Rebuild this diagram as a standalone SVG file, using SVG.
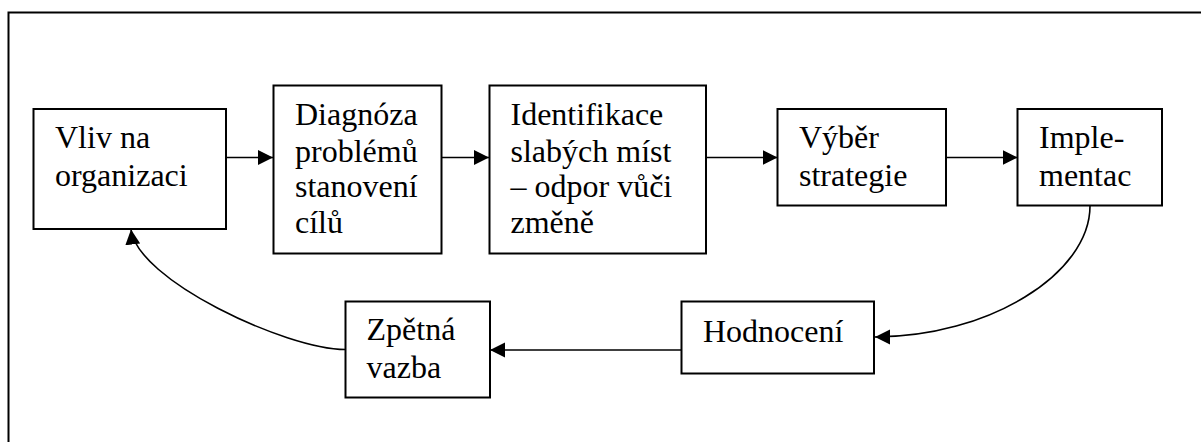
<svg xmlns="http://www.w3.org/2000/svg" width="1201" height="442" viewBox="0 0 1201 442">
<style>
.box{fill:#fff;stroke:#000;stroke-width:2}
.t{font-family:'Liberation Serif','Times New Roman',serif;font-size:32px;fill:#000}
.c{fill:none;stroke:#000;stroke-width:1.6}
</style>
<defs>
<marker id="ah" markerUnits="userSpaceOnUse" markerWidth="16" markerHeight="16" refX="15" refY="7.5" orient="auto" viewBox="0 0 16 15">
<path d="M0,0 L15,7.5 L0,15 Z" fill="#000"/>
</marker>
</defs>
<rect width="1201" height="442" fill="#fff"/>
<path d="M8.5,442 V12.5 H1201" fill="none" stroke="#000" stroke-width="2"/>
<g id="connectors">
<path class="c" d="M226,157.5 H273" marker-end="url(#ah)"/>
<path class="c" d="M442,157.5 H489" marker-end="url(#ah)"/>
<path class="c" d="M706,157.5 H777.5" marker-end="url(#ah)"/>
<path class="c" d="M946,157.5 H1017.5" marker-end="url(#ah)"/>
<path class="c" d="M1090,206 C1090,274 988,337 875,337" marker-end="url(#ah)"/>
<path class="c" d="M682,350 H490" marker-end="url(#ah)"/>
<path class="c" d="M345.5,349.5 C285,349 137,280 131,229.5" marker-end="url(#ah)"/>
</g>
<g id="n1">
<rect class="box" x="33.5" y="109" width="192.5" height="120"/>
<text class="t" x="55" y="148" style="font-family:'Liberation Serif',serif">Vliv na</text>
<text class="t" x="55" y="186" style="font-family:'Liberation Serif',serif">organizaci</text>
</g>
<g id="n2">
<rect class="box" x="273.5" y="85.5" width="168" height="168"/>
<text class="t" x="295" y="125" style="font-family:'Liberation Serif',serif">Diagnóza</text>
<text class="t" x="295" y="161.5" style="font-family:'Liberation Serif',serif">problémů</text>
<text class="t" x="295" y="197" style="font-family:'Liberation Serif',serif">stanovení</text>
<text class="t" x="295" y="232.5" style="font-family:'Liberation Serif',serif">cílů</text>
</g>
<g id="n3">
<rect class="box" x="489.5" y="85.5" width="216.5" height="168"/>
<text class="t" x="510.5" y="125" style="font-family:'Liberation Serif',serif">Identifikace</text>
<text class="t" x="510.5" y="161.5" style="font-family:'Liberation Serif',serif">slabých míst</text>
<text class="t" x="510.5" y="197" style="font-family:'Liberation Serif',serif">– odpor vůči</text>
<text class="t" x="510.5" y="232.5" style="font-family:'Liberation Serif',serif">změně</text>
</g>
<g id="n4">
<rect class="box" x="777.5" y="109" width="168.5" height="96.5"/>
<text class="t" x="799" y="148" style="font-family:'Liberation Serif',serif">Výběr</text>
<text class="t" x="799" y="185.5" style="font-family:'Liberation Serif',serif">strategie</text>
</g>
<g id="n5">
<rect class="box" x="1017.5" y="109" width="144.5" height="96.5"/>
<text class="t" x="1039" y="148" style="font-family:'Liberation Serif',serif">Imple-</text>
<text class="t" x="1039" y="185.5" style="font-family:'Liberation Serif',serif">mentac</text>
</g>
<g id="n6">
<rect class="box" x="345.5" y="301.5" width="144.5" height="96"/>
<text class="t" x="366.5" y="340" style="font-family:'Liberation Serif',serif">Zpětná</text>
<text class="t" x="366.5" y="377.5" style="font-family:'Liberation Serif',serif">vazba</text>
</g>
<g id="n7">
<rect class="box" x="681.5" y="301.5" width="192.5" height="72"/>
<text class="t" x="703" y="341.5" style="font-family:'Liberation Serif',serif">Hodnocení</text>
</g>
</svg>
